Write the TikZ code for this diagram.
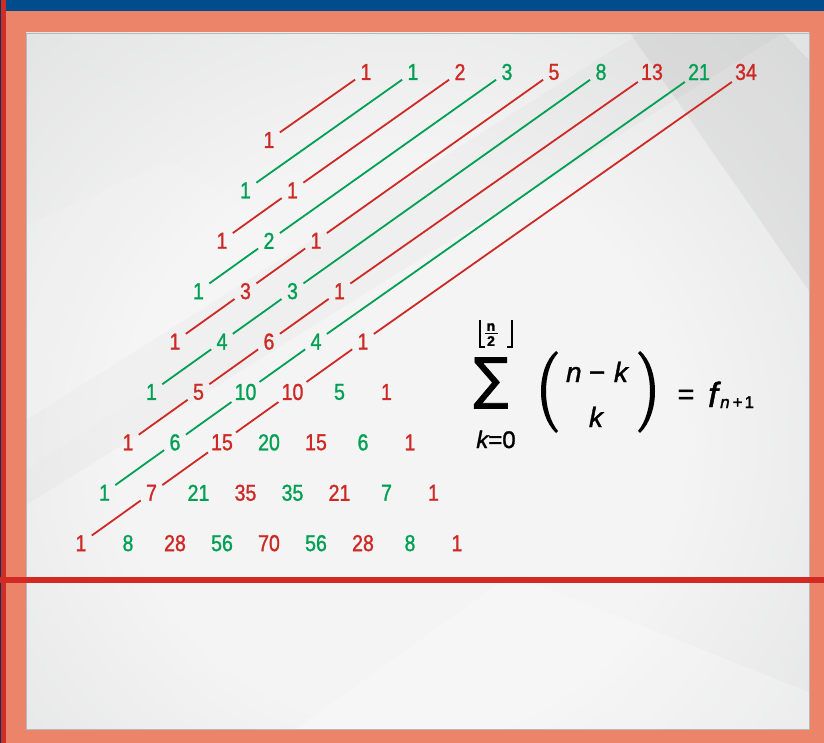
\documentclass[tikz,border=0pt]{standalone}
\usepackage{graphicx}
\usepackage{fontspec}
\setmainfont{Liberation Sans}
\newfontfamily\numfont[FakeStretch=0.85,FakeBold=1.2]{Liberation Sans}
\newfontfamily\frmfont[FakeBold=1.4]{Liberation Sans}
\newfontfamily\symfont[FakeBold=1.2]{DejaVu Sans}
\definecolor{fred}{RGB}{205,41,37}
\definecolor{fgreen}{RGB}{0,160,84}
\definecolor{frameor}{RGB}{236,132,106}
\definecolor{topblue}{RGB}{0,76,140}
\definecolor{stripred}{RGB}{208,45,38}
\definecolor{hred}{RGB}{210,42,34}
\definecolor{pcA}{RGB}{244,244,244}
\definecolor{pcB}{RGB}{206,207,207}
\definecolor{pcC}{RGB}{184,185,185}
\pgfdeclareradialshading{panelrad}{\pgfpoint{0bp}{0bp}}{color(0bp)=(pcA); color(14bp)=(pcA); color(45bp)=(pcB); color(58bp)=(pcC)}
\begin{document}
\begin{tikzpicture}[x=1pt,y=-1pt,
  num/.style={circle,inner sep=2.5pt,minimum size=26pt,font=\numfont\fontsize{23}{26}\selectfont},
  diag/.style={line width=1.8pt},
  frm/.style={font=\frmfont\itshape\fontsize{28}{30}\selectfont,inner sep=0pt,anchor=base},
]
\useasboundingbox (0,0) rectangle (824,743);
% frame
\fill[frameor] (0,0) rectangle (824,743);
\fill[topblue] (0,0) rectangle (824,11);
\fill[stripred] (0,0) rectangle (6,743);
\fill[topblue!70!black] (0,0) rectangle (1.4,743);
% panel
\begin{scope}
  \clip (26,33) rectangle (809,729);
  \shade[shading=panelrad] (-100,-60) rectangle (900,940);
  \fill[black,opacity=0.045] (630,33) -- (783,33) -- (809,60) -- (809,291) -- cycle;
  \fill[black,opacity=0.02] (26,420) -- (26,505) -- (783,33) -- (640,33) -- cycle;
  \fill[white,opacity=0.25] (296,729) -- (501,582) -- (531,582) -- (809,692) -- (809,729) -- cycle;
  \fill[white,opacity=0.12] (26,225) -- (171,160) -- (330,270) -- (26,470) -- cycle;
\end{scope}
\draw[gray!55,line width=0.8pt] (26,33) rectangle (809,729);
\fill[hred] (0,577) rectangle (824,583);
% triangle entries
\foreach \n/\row in {0/{1},1/{1,1},2/{1,2,1},3/{1,3,3,1},4/{1,4,6,4,1},5/{1,5,10,10,5,1},6/{1,6,15,20,15,6,1},7/{1,7,21,35,35,21,7,1},8/{1,8,28,56,70,56,28,8,1}}{
  \foreach \v [count=\kk from 0] in \row {
    \pgfmathtruncatemacro\dpar{mod(\n+\kk,2)}
    \ifnum\dpar=0 \def\col{fred}\else\def\col{fgreen}\fi
    \node[num,text=\col] (e\n-\kk) at ({269-23.5*\n+47*\kk},{140+50.4*\n}) {\v};
  }
}
% top labels
\foreach \d/\v in {0/1,1/1,2/2,3/3,4/5,5/8,6/13,7/21,8/34}{
  \pgfmathtruncatemacro\dpar{mod(\d,2)}
  \ifnum\dpar=0 \def\col{fred}\else\def\col{fgreen}\fi
  \pgfmathsetmacro\sh{\v>9 ? 4 : 0}
  \node[num,text=\col] (t\d) at ({366+47*\d+\sh},72) {\v};
}
% diagonals
\foreach \d in {0,...,8}{
  \pgfmathtruncatemacro\jm{floor(\d/2)}
  \pgfmathtruncatemacro\dpar{mod(\d,2)}
  \ifnum\dpar=0 \def\col{fred}\else\def\col{fgreen}\fi
  \foreach \j in {0,...,\jm}{
    \pgfmathtruncatemacro\na{\d-\j}
    \ifnum\j<\jm
      \pgfmathtruncatemacro\nb{\d-\j-1}
      \pgfmathtruncatemacro\kb{\j+1}
      \draw[diag,color=\col] (e\na-\j) -- (e\nb-\kb);
    \else
      \draw[diag,color=\col] (e\na-\j) -- (t\d);
    \fi
  }
}
% formula
\node[inner sep=0pt] (sum) at (491,383) {\resizebox*{35pt}{51pt}{\symfont ∑}};
\node[frm,font=\frmfont\itshape\fontsize{24}{26}\selectfont] (klim) at (496,448) {k\upshape=0};
\draw[line width=1.9pt] (480,320) -- (480,347) -- (485,347);
\draw[line width=1.9pt] (512,320) -- (512,347) -- (507,347);
\node[inner sep=0pt,font=\frmfont\bfseries\fontsize{14}{15}\selectfont] (fn) at (491,327) {n};
\draw[line width=1.4pt] (484.5,333.5) -- (497.5,333.5);
\node[inner sep=0pt,font=\frmfont\bfseries\fontsize{14}{15}\selectfont] (ftwo) at (491,341) {2};
\fill (556,351) .. controls (536,368) and (536,414) .. (556,433) -- (558,431) .. controls (542,412) and (542,370) .. (558,353) -- cycle;
\fill (640,351) .. controls (660,368) and (660,414) .. (640,433) -- (638,431) .. controls (654,412) and (654,370) .. (638,353) -- cycle;
\node[frm] (nmk) at (597,382) {n\hspace{7pt}−\hspace{9pt}k};
\node[frm] (kk) at (596,427) {k};
\node[frm,font=\frmfont\fontsize{29}{30}\selectfont] (eq) at (686,404) {=};
\node[frm,font=\frmfont\itshape\fontsize{35}{40}\selectfont] (ff) at (713,407) {f};
\node[frm,anchor=base west,font=\frmfont\itshape\fontsize{17}{20}\selectfont] (sub) at (720,408) {n\hspace{3pt}\upshape+\hspace{2pt}1};
\end{tikzpicture}
\end{document}
